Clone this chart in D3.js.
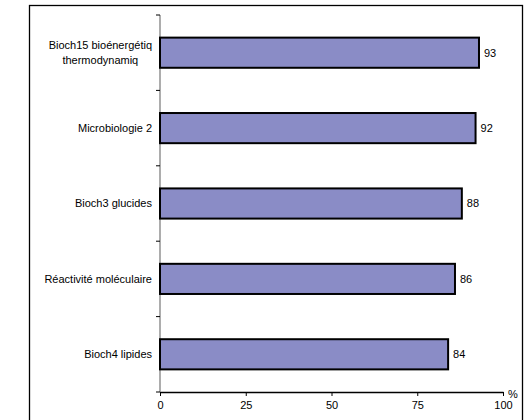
<!DOCTYPE html>
<html>
<head>
<meta charset="utf-8">
<script src="https://cdn.jsdelivr.net/npm/d3@7"></script>
<style>
  html, body { margin: 0; padding: 0; background: #fff; }
  svg text { font-family: "Liberation Sans", Arial, sans-serif; fill: #000; }
</style>
</head>
<body>
<svg id="chart" width="531" height="420"></svg>
<script>
const categories = [
  ["Bioch15 bioénergétiq", "thermodynamiq"],
  ["Microbiologie 2"],
  ["Bioch3 glucides"],
  ["Réactivité moléculaire"],
  ["Bioch4 lipides"]
];
const values = [93, 92, 88, 86, 84];
const xTicks = [0, 25, 50, 75, 100];
const unitLabel = "%";

const svg = d3.select("#chart");

// outer frame
svg.append("rect")
  .attr("x", 29.5).attr("y", 5.5)
  .attr("width", 493).attr("height", 430)
  .attr("fill", "none").attr("stroke", "#000").attr("stroke-width", 1.3);

const x0 = 160, x1 = 503, yTop = 15, yBot = 392;
const x = d3.scaleLinear().domain([0, 100]).range([x0, x1]);
const ids = categories.map((d, i) => i);
const y = d3.scaleBand().domain(ids).range([yTop, yBot]).paddingInner(0.6).paddingOuter(0.3);

// y axis line + ticks at band boundaries
svg.append("line").attr("x1", x0).attr("x2", x0).attr("y1", yTop).attr("y2", yBot)
  .attr("stroke", "#808080").attr("stroke-width", 1.3);
const step = (yBot - yTop) / categories.length;
d3.range(categories.length + 1).forEach(i => {
  const yy = yTop + i * step;
  svg.append("line").attr("x1", x0 - 4).attr("x2", x0).attr("y1", yy).attr("y2", yy)
    .attr("stroke", "#000").attr("stroke-width", 1);
});

// x axis
const xAxis = d3.axisBottom(x).tickValues(xTicks).tickSize(4).tickPadding(5).tickSizeOuter(0);
const gx = svg.append("g").attr("transform", `translate(0,${yBot})`).call(xAxis);
gx.select(".domain").attr("stroke", "#000").attr("stroke-width", 1.3);
gx.selectAll(".tick line").attr("stroke", "#000");
gx.selectAll(".tick text").attr("font-size", 11).attr("font-family", "Liberation Sans, Arial, sans-serif");

svg.append("text").attr("x", x1 + 5).attr("y", yBot + 6)
  .attr("font-size", 11).text(unitLabel);

// bars
svg.selectAll("rect.bar").data(values).join("rect")
  .attr("class", "bar")
  .attr("x", x(0))
  .attr("y", (d, i) => y(i))
  .attr("width", d => x(d) - x(0))
  .attr("height", y.bandwidth())
  .attr("fill", "#8a8cc6")
  .attr("stroke", "#000")
  .attr("stroke-width", 2);

// value labels
svg.selectAll("text.val").data(values).join("text")
  .attr("class", "val")
  .attr("x", d => x(d) + 5)
  .attr("y", (d, i) => y(i) + y.bandwidth() / 2)
  .attr("dy", "0.35em")
  .attr("font-size", 11)
  .text(d => d);

// category labels
categories.forEach((lines, i) => {
  const cy = y(i) + y.bandwidth() / 2;
  const lh = 15;
  const g = svg.append("g");
  const texts = lines.map((t, j) => g.append("text")
    .attr("y", cy + (j - (lines.length - 1) / 2) * lh)
    .attr("dy", "0.35em")
    .attr("font-size", 11)
    .text(t));
  const widths = texts.map(t => t.node().getComputedTextLength());
  const maxW = Math.max(...widths);
  const right = 152;
  const center = right - maxW / 2;
  texts.forEach(t => t.attr("x", center).attr("text-anchor", "middle"));
});
</script>
</body>
</html>
